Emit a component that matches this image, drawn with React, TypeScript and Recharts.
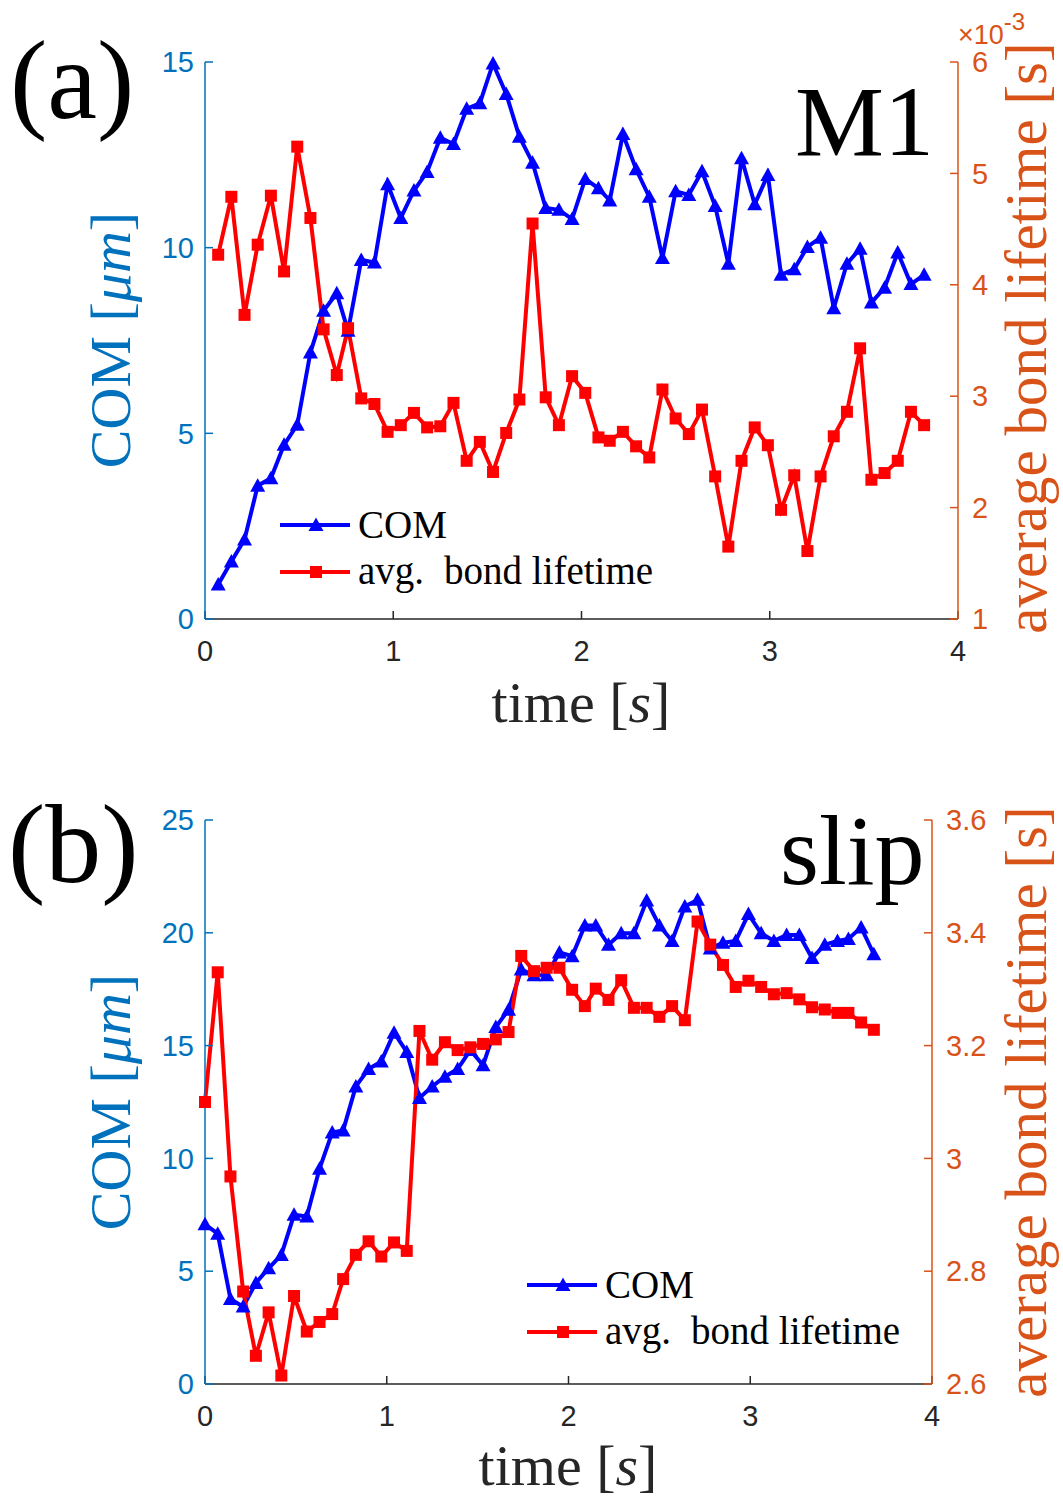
import React from "react";
import { LineChart, Line, XAxis, YAxis, Legend, Label } from "recharts";

// sample times, panel (a)
const timeA = [0.07, 0.14, 0.21, 0.28, 0.35, 0.42, 0.49, 0.56, 0.63, 0.70, 0.76, 0.83, 0.90, 0.97, 1.04, 1.11, 1.18, 1.25, 1.32, 1.39, 1.46, 1.53, 1.60, 1.67, 1.74, 1.81, 1.88, 1.95, 2.02, 2.09, 2.15, 2.22, 2.29, 2.36, 2.43, 2.50, 2.57, 2.64, 2.71, 2.78, 2.85, 2.92, 2.99, 3.06, 3.13, 3.20, 3.27, 3.34, 3.41, 3.48, 3.54, 3.61, 3.68, 3.75, 3.82];
// COM [um], panel (a)
const comA = [0.93, 1.55, 2.14, 3.59, 3.79, 4.69, 5.23, 7.18, 8.3, 8.77, 7.76, 9.67, 9.6, 11.71, 10.8, 11.54, 12.04, 12.96, 12.79, 13.74, 13.89, 14.96, 14.14, 12.99, 12.29, 11.07, 11.02, 10.77, 11.85, 11.6, 11.27, 13.06, 12.11, 11.37, 9.72, 11.52, 11.42, 12.06, 11.12, 9.57, 12.41, 11.17, 11.96, 9.27, 9.42, 10.02, 10.27, 8.37, 9.57, 9.97, 8.52, 8.92, 9.87, 9.02, 9.27];
// avg bond lifetime [x1e-3 s], panel (a)
const lifeA = [4.27, 4.79, 3.73, 4.36, 4.8, 4.12, 5.24, 4.6, 3.6, 3.19, 3.61, 2.98, 2.93, 2.68, 2.74, 2.85, 2.72, 2.73, 2.94, 2.42, 2.59, 2.32, 2.67, 2.97, 4.55, 2.99, 2.74, 3.18, 3.03, 2.63, 2.6, 2.68, 2.55, 2.45, 3.06, 2.8, 2.66, 2.88, 2.28, 1.65, 2.42, 2.72, 2.56, 1.98, 2.29, 1.61, 2.28, 2.64, 2.86, 3.43, 2.25, 2.31, 2.42, 2.86, 2.74];

// sample times, panel (b)
const timeB = [0, 0.07, 0.14, 0.21, 0.28, 0.35, 0.42, 0.49, 0.56, 0.63, 0.70, 0.76, 0.83, 0.90, 0.97, 1.04, 1.11, 1.18, 1.25, 1.32, 1.39, 1.46, 1.53, 1.60, 1.67, 1.74, 1.81, 1.88, 1.95, 2.02, 2.09, 2.15, 2.22, 2.29, 2.36, 2.43, 2.50, 2.57, 2.64, 2.71, 2.78, 2.85, 2.92, 2.99, 3.06, 3.13, 3.20, 3.27, 3.34, 3.41, 3.48, 3.54, 3.61, 3.68];
const comB = [7.08, 6.66, 3.77, 3.43, 4.48, 5.13, 5.72, 7.5, 7.42, 9.54, 11.15, 11.24, 13.19, 13.96, 14.3, 15.57, 14.72, 12.68, 13.19, 13.62, 13.96, 14.8, 14.13, 15.82, 16.59, 18.37, 18.12, 18.12, 19.13, 18.96, 20.32, 20.32, 19.47, 19.98, 19.98, 21.43, 20.32, 19.64, 21.17, 21.46, 19.3, 19.56, 19.64, 20.83, 19.98, 19.64, 19.9, 19.9, 18.88, 19.47, 19.64, 19.73, 20.24, 19.05];
const lifeB = [3.1, 3.33, 2.968, 2.764, 2.65, 2.727, 2.615, 2.756, 2.693, 2.71, 2.724, 2.786, 2.829, 2.853, 2.826, 2.851, 2.836, 3.226, 3.175, 3.206, 3.192, 3.197, 3.203, 3.211, 3.224, 3.359, 3.332, 3.338, 3.338, 3.299, 3.27, 3.301, 3.281, 3.316, 3.267, 3.267, 3.251, 3.27, 3.245, 3.42, 3.379, 3.343, 3.304, 3.315, 3.304, 3.291, 3.293, 3.282, 3.268, 3.264, 3.258, 3.258, 3.241, 3.228];

const xTicks = [0, 1, 2, 3, 4];
const comTicksA = [0, 5, 10, 15];
const lifeTicksA = [1, 2, 3, 4, 5, 6];
const comTicksB = [0, 5, 10, 15, 20, 25];
const lifeTicksB = [2.6, 2.8, 3, 3.2, 3.4, 3.6];

const dataA = timeA.map((t, i) => ({ t, com: comA[i], life: lifeA[i] }));
const dataB = timeB.map((t, i) => ({ t, com: comB[i], life: lifeB[i] }));

const BLUE = "#0000FF";
const RED = "#FF0000";
const AX_L = "#0072BD";
const AX_R = "#D95319";
const AX_K = "#262626";
const SANS = "'Liberation Sans', Arial, sans-serif";
const SERIF = "'Liberation Serif', 'Times New Roman', serif";

const triPath = (cx: number, cy: number) =>
  `M${cx},${cy - 7.5} L${cx + 7.5},${cy + 6} L${cx - 7.5},${cy + 6} Z`;

const TriDot = (props: any) => {
  const { cx, cy, index } = props;
  if (cx == null || cy == null) return <g key={`t${index}`} />;
  return <path key={`t${index}`} d={triPath(cx, cy)} fill={BLUE} />;
};

const SqDot = (props: any) => {
  const { cx, cy, index } = props;
  if (cx == null || cy == null) return <g key={`s${index}`} />;
  return <rect key={`s${index}`} x={cx - 6} y={cy - 6} width={12} height={12} fill={RED} />;
};

// legend rows sit at y=40 and y=87 inside this box
const LegendBox = () => (
  <svg width={420} height={120} style={{ display: "block", overflow: "visible" }}>
    <line x1={2} x2={72} y1={40} y2={40} stroke={BLUE} strokeWidth={4} />
    <path d={triPath(38, 40)} fill={BLUE} />
    <text x={80} y={53} fontSize={39} fontFamily={SERIF} fill="#000">COM</text>
    <line x1={2} x2={72} y1={87} y2={87} stroke={RED} strokeWidth={4} />
    <rect x={32} y={81} width={12} height={12} fill={RED} />
    <text x={80} y={99} fontSize={39} fontFamily={SERIF} fill="#000">
      avg.<tspan dx={20}>bond lifetime</tspan>
    </text>
  </svg>
);

const tickStyle = (fill: string) => ({ fill, fontSize: 29, fontFamily: SANS });

const leftLabel = (cy: number) => () => (
  <text
    x={130}
    y={cy}
    transform={`rotate(-90, 130, ${cy})`}
    textAnchor="middle"
    fontSize={58}
    fontFamily={SERIF}
    fill={AX_L}
  >
    COM [<tspan fontStyle="italic">μm</tspan>]
  </text>
);

const rightLabel = (cy: number, exp: boolean) => () => (
  <g>
    <text
      x={1046}
      y={cy}
      transform={`rotate(-90, 1046, ${cy})`}
      textAnchor="middle"
      fontSize={59}
      fontFamily={SERIF}
      fill={AX_R}
    >
      average bond lifetime [s]
    </text>
    {exp && (
      <text x={958} y={44} fontSize={27} fontFamily={SANS} fill={AX_R}>
        ×10<tspan dy={-14} fontSize={24}>-3</tspan>
      </text>
    )}
  </g>
);

const timeLabel = (cx: number, y: number) => () => (
  <text x={cx} y={y} textAnchor="middle" fontSize={58} fontFamily={SERIF} fill={AX_K}>
    time [<tspan fontStyle="italic">s</tspan>]
  </text>
);

const axisLine = (c: string) => ({ stroke: c, strokeWidth: 1.5 });

export default function App() {
  return (
    <div style={{ position: "absolute", left: 0, top: 0, width: 1063, height: 1501, background: "#fff" }}>
      <div style={{ position: "absolute", left: 0, top: 0 }}>
        <LineChart width={1063} height={760} data={dataA} margin={{ top: 62, right: 0, bottom: 0, left: 0 }}>
          <XAxis
            dataKey="t"
            type="number"
            domain={[0, 4]}
            ticks={xTicks}
            interval={0}
            height={141}
            tickSize={-8}
            tickMargin={29}
            axisLine={axisLine(AX_K)}
            tickLine={axisLine(AX_K)}
            tick={tickStyle(AX_K)}
          >
            <Label content={timeLabel(581, 722)} />
          </XAxis>
          <XAxis
            xAxisId="top"
            orientation="top"
            dataKey="t"
            type="number"
            domain={[0, 4]}
            ticks={xTicks}
            interval={0}
            height={0}
            tickSize={-8}
            tick={false}
            axisLine={axisLine(AX_K)}
            tickLine={axisLine(AX_K)}
          />
          <YAxis
            yAxisId="left"
            type="number"
            domain={[0, 15]}
            ticks={comTicksA}
            interval={0}
            width={205}
            tickSize={-8}
            tickMargin={19}
            axisLine={axisLine(AX_L)}
            tickLine={axisLine(AX_L)}
            tick={tickStyle(AX_L)}
          >
            <Label content={leftLabel(340)} />
          </YAxis>
          <YAxis
            yAxisId="right"
            orientation="right"
            type="number"
            domain={[1, 6]}
            ticks={lifeTicksA}
            interval={0}
            width={105}
            tickSize={-8}
            tickMargin={22}
            axisLine={axisLine(AX_R)}
            tickLine={axisLine(AX_R)}
            tick={tickStyle(AX_R)}
          >
            <Label content={rightLabel(338, true)} />
          </YAxis>
          <Legend
            layout="vertical"
            align="center"
            verticalAlign="middle"
            content={() => <LegendBox />}
            wrapperStyle={{ left: 278, top: 485, width: 420, height: 120 }}
          />
          <Line yAxisId="left" dataKey="com" stroke={BLUE} strokeWidth={4} dot={TriDot} activeDot={false} isAnimationActive={false} />
          <Line yAxisId="right" dataKey="life" stroke={RED} strokeWidth={4} dot={SqDot} activeDot={false} isAnimationActive={false} />
        </LineChart>
      </div>

      <div style={{ position: "absolute", left: 0, top: 760 }}>
        <LineChart width={1063} height={741} data={dataB} margin={{ top: 60, right: 0, bottom: 0, left: 0 }}>
          <XAxis
            dataKey="t"
            type="number"
            domain={[0, 4]}
            ticks={xTicks}
            interval={0}
            height={117}
            tickSize={-8}
            tickMargin={29}
            axisLine={axisLine(AX_K)}
            tickLine={axisLine(AX_K)}
            tick={tickStyle(AX_K)}
          >
            <Label content={timeLabel(568, 725)} />
          </XAxis>
          <XAxis
            xAxisId="top"
            orientation="top"
            dataKey="t"
            type="number"
            domain={[0, 4]}
            ticks={xTicks}
            interval={0}
            height={0}
            tickSize={-8}
            tick={false}
            axisLine={axisLine(AX_K)}
            tickLine={axisLine(AX_K)}
          />
          <YAxis
            yAxisId="left"
            type="number"
            domain={[0, 25]}
            ticks={comTicksB}
            interval={0}
            width={205}
            tickSize={-8}
            tickMargin={19}
            axisLine={axisLine(AX_L)}
            tickLine={axisLine(AX_L)}
            tick={tickStyle(AX_L)}
          >
            <Label content={leftLabel(342)} />
          </YAxis>
          <YAxis
            yAxisId="right"
            orientation="right"
            type="number"
            domain={[2.6, 3.6]}
            ticks={lifeTicksB}
            interval={0}
            width={131}
            tickSize={-8}
            tickMargin={22}
            axisLine={axisLine(AX_R)}
            tickLine={axisLine(AX_R)}
            tick={tickStyle(AX_R)}
          >
            <Label content={rightLabel(342, false)} />
          </YAxis>
          <Legend
            layout="vertical"
            align="center"
            verticalAlign="middle"
            content={() => <LegendBox />}
            wrapperStyle={{ left: 525, top: 485, width: 420, height: 120 }}
          />
          <Line yAxisId="left" dataKey="com" stroke={BLUE} strokeWidth={4} dot={TriDot} activeDot={false} isAnimationActive={false} />
          <Line yAxisId="right" dataKey="life" stroke={RED} strokeWidth={4} dot={SqDot} activeDot={false} isAnimationActive={false} />
        </LineChart>
      </div>

      <svg width={1063} height={1501} style={{ position: "absolute", left: 0, top: 0, pointerEvents: "none" }}>
        <text x={10} y={118} fontSize={112} fontFamily={SERIF} fill="#000">(a)</text>
        <text x={795} y={155} fontSize={100} fontFamily={SERIF} fill="#000">M1</text>
        <text x={8} y={882} fontSize={112} fontFamily={SERIF} fill="#000">(b)</text>
        <text x={780} y={884} fontSize={100} fontFamily={SERIF} fill="#000">slip</text>
      </svg>
    </div>
  );
}
